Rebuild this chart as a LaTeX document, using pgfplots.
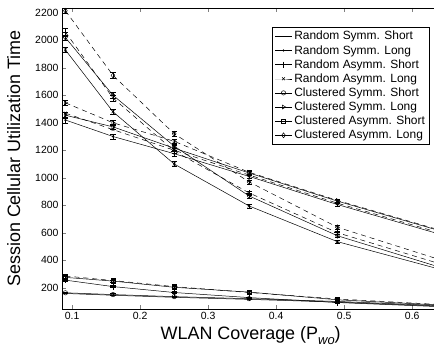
\documentclass[border=0pt]{standalone}
\usepackage{pgfplots}
\pgfplotsset{compat=1.18}
\usepackage{fontspec}
\setmainfont{Liberation Sans}
\begin{document}
\begin{tikzpicture}
\useasboundingbox (-62bp,-44bp) rectangle (372bp,309bp);
\begin{axis}[
  at={(0,0)}, anchor=south west,
  scale only axis, width=377.4bp, height=301bp,
  xmin=0.085, xmax=0.64, ymin=45, ymax=2235,
  xtick={0.1,0.2,0.3,0.4,0.5,0.6},
  ytick={200,400,600,800,1000,1200,1400,1600,1800,2000,2200},
  xticklabels={0.1,0.2,0.3,0.4,0.5,0.6},
  tick align=inside, xtick pos=both, ytick pos=both,
  major tick length=4bp,
  /pgf/number format/assume math mode=true,
  /pgf/number format/1000 sep={},
  tick label style={font=\fontsize{10.5}{12}\selectfont},
  label style={font=\fontsize{18}{20}\selectfont},
  xlabel={WLAN Coverage (P\raisebox{-0.45ex}{\fontsize{13}{13}\selectfont\itshape wo})},
  ylabel={Session Cellular Utilization Time},
  ylabel shift=8bp,
  legend style={at={(0.973,0.937)}, anchor=north east, draw=black, line width=0.6pt,
    font=\fontsize{12}{13.8}\selectfont, cells={anchor=west}, inner sep=2pt,
    /tikz/every even column/.append style={column sep=2pt}},
  legend image code/.code={\draw[mark repeat=2,mark phase=2] plot coordinates {(0cm,0cm) (0.3cm,0cm) (0.6cm,0cm)};},
  every axis plot/.append style={black, line width=0.5pt, mark size=2.2bp},
  error bars/error bar style={line width=0.5pt},
  error bars/error mark options={rotate=90, mark size=2.5bp, line width=0.5pt},
]
% Solid (legend) series
\addplot[no marks] coordinates {(0.09,158) (0.16,145) (0.25,130) (0.36,115) (0.49,95) (0.64,66)};
\addlegendentry{Random Symm. Short}
\addplot[mark=*, mark size=0.8bp, error bars/.cd, y dir=both, y explicit] coordinates {(0.09,1420) +- (0,20) (0.16,1300) +- (0,18) (0.25,1175) +- (0,18) (0.36,1010) +- (0,15) (0.49,805) +- (0,12) (0.64,590) +- (0,10)};
\addlegendentry{Random Symm. Long}
\addplot[mark=+, mark size=3bp, error bars/.cd, y dir=both, y explicit] coordinates {(0.09,255) +- (0,8) (0.16,208) +- (0,8) (0.25,165) +- (0,8) (0.36,128) +- (0,6) (0.49,92) +- (0,6) (0.64,62) +- (0,5)};
\addlegendentry{Random Asymm. Short}
\addplot[mark=x, mark size=2bp, error bars/.cd, y dir=both, y explicit] coordinates {(0.09,1930) +- (0,20) (0.16,1480) +- (0,20) (0.25,1100) +- (0,18) (0.36,795) +- (0,15) (0.49,535) +- (0,12) (0.64,335) +- (0,10)};
\addlegendentry{Random Asymm. Long}
\addplot[mark=o, error bars/.cd, y dir=both, y explicit] coordinates {(0.09,163) +- (0,6) (0.16,150) +- (0,6) (0.25,135) +- (0,6) (0.36,120) +- (0,5) (0.49,100) +- (0,5) (0.64,70) +- (0,4)};
\addlegendentry{Clustered Symm. Short}
\addplot[mark=triangle, mark options={rotate=-90}, error bars/.cd, y dir=both, y explicit] coordinates {(0.09,1455) +- (0,20) (0.16,1370) +- (0,20) (0.25,1215) +- (0,18) (0.36,1035) +- (0,15) (0.49,830) +- (0,12) (0.64,615) +- (0,10)};
\addlegendentry{Clustered Symm. Long}
\addplot[mark=square, mark size=2bp, error bars/.cd, y dir=both, y explicit] coordinates {(0.09,275) +- (0,8) (0.16,248) +- (0,8) (0.25,203) +- (0,8) (0.36,168) +- (0,6) (0.49,112) +- (0,6) (0.64,74) +- (0,5)};
\addlegendentry{Clustered Asymm. Short}
\addplot[mark=diamond, mark size=2.5bp, error bars/.cd, y dir=both, y explicit] coordinates {(0.09,2020) +- (0,20) (0.16,1600) +- (0,20) (0.25,1230) +- (0,18) (0.36,868) +- (0,15) (0.49,578) +- (0,12) (0.64,350) +- (0,10)};
\addlegendentry{Clustered Asymm. Long}
% Dashed series (not in legend)
\addplot[forget plot, dash pattern=on 5bp off 4bp, mark=diamond, mark size=2.5bp, mark options={solid}, error bars/.cd, y dir=both, y explicit, error bar style={solid}] coordinates {(0.09,2215) +- (0,20) (0.16,1745) +- (0,20) (0.25,1320) +- (0,18) (0.36,970) +- (0,15) (0.49,640) +- (0,12) (0.64,405) +- (0,10)};
\addplot[forget plot, dash pattern=on 5bp off 4bp, mark=+, mark size=3bp, mark options={solid}, error bars/.cd, y dir=both, y explicit, error bar style={solid}] coordinates {(0.09,2060) +- (0,30) (0.16,1580) +- (0,20) (0.25,1195) +- (0,18) (0.36,890) +- (0,15) (0.49,600) +- (0,12) (0.64,375) +- (0,10)};
\addplot[forget plot, dash pattern=on 5bp off 4bp, mark=triangle, mark options={solid,rotate=-90}, error bars/.cd, y dir=both, y explicit, error bar style={solid}] coordinates {(0.09,1545) +- (0,20) (0.16,1400) +- (0,20) (0.25,1265) +- (0,18) (0.36,1040) +- (0,15) (0.49,835) +- (0,12) (0.64,620) +- (0,10)};
\addplot[forget plot, dash pattern=on 5bp off 4bp, mark=x, mark size=2bp, mark options={solid}] coordinates {(0.09,1470) (0.16,1350) (0.25,1200) (0.36,1020) (0.49,815) (0.64,600)};
\addplot[forget plot, dash pattern=on 5bp off 4bp, mark=square, mark size=2bp, mark options={solid}] coordinates {(0.09,285) (0.16,252) (0.25,208) (0.36,165) (0.49,118) (0.64,78)};
\end{axis}
\end{tikzpicture}
\end{document}
